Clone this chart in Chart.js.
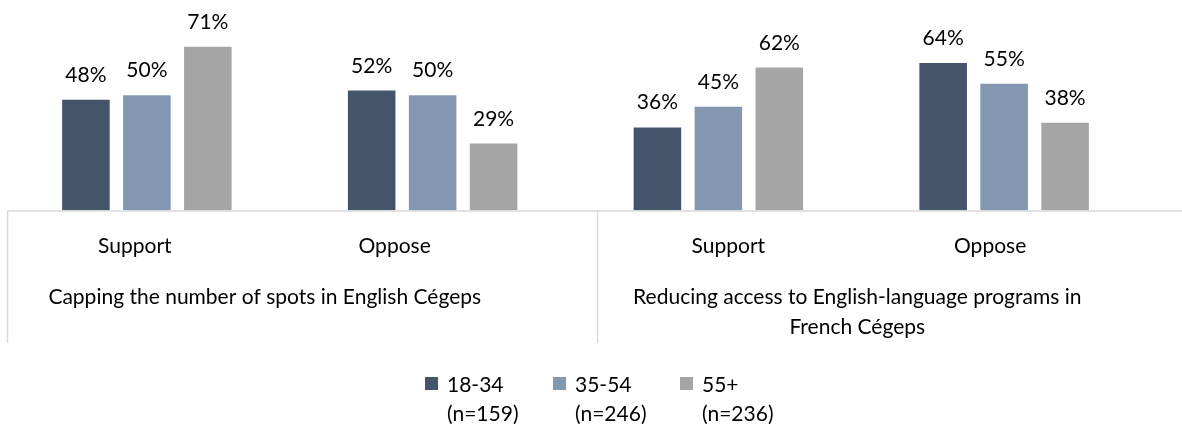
<!DOCTYPE html>
<html><head><meta charset="utf-8">
<script src="https://cdn.jsdelivr.net/npm/chart.js@4.4.1/dist/chart.umd.min.js"></script>
<style>html,body{margin:0;padding:0;background:#fff;}#wrap{width:1182px;height:429px;}</style>
</head><body><div id="wrap"><canvas id="c" width="1182" height="429"></canvas></div>
<script>
const categories = ['Support', 'Oppose', 'Support', 'Oppose'];
const groupLabels = [['Capping the number of spots in English Cégeps'], ['Reducing access to English-language programs in', 'French Cégeps']];
const seriesNames = ['18-34', '35-54', '55+'];
const sampleSizes = ['(n=159)', '(n=246)', '(n=236)'];
const age18to34 = [48, 52, 36, 64];
const age35to54 = [50, 50, 45, 55];
const age55plus = [71, 29, 62, 38];
const seriesColors = ['#44546A', '#8497B0', '#A5A5A5'];

const FONT = 'Lato, "Open Sans", sans-serif';
const FSIZE = 21;

const decor = {
  id: 'decor',
  afterDraw(chart) {
    const ctx = chart.ctx, area = chart.chartArea, xs = chart.scales.x;
    const W = chart.width;
    ctx.save();
    // axis & separators
    ctx.strokeStyle = '#D9D9D9';
    ctx.lineWidth = 1.5;
    const base = area.bottom + 0.5;
    ctx.beginPath();
    ctx.moveTo(7, base); ctx.lineTo(W, base);
    ctx.moveTo(7.5, base); ctx.lineTo(7.5, 343);
    ctx.moveTo(597.5, base); ctx.lineTo(597.5, 343);
    ctx.stroke();
    ctx.fillStyle = '#000';
    ctx.font = FSIZE + 'px ' + FONT;
    ctx.textAlign = 'center';
    ctx.textBaseline = 'middle';
    // data labels
    chart.data.datasets.forEach((ds, di) => {
      chart.getDatasetMeta(di).data.forEach((bar, i) => {
        ctx.textBaseline = 'alphabetic';
        ctx.fillText(ds.data[i] + '%', bar.x, bar.y - 18);
      });
    });
    // category labels
    const catNudge = [-12, -38, 10, -14];
    ctx.textBaseline = 'middle';
    categories.forEach((c, i) => {
      ctx.fillText(c, xs.getPixelForValue(i) + catNudge[i], 246);
    });
    // group labels
    const grpNudge = [-25, -4];
    groupLabels.forEach((lines, g) => {
      const cx = (xs.getPixelForValue(g * 2) + xs.getPixelForValue(g * 2 + 1)) / 2 + grpNudge[g];
      lines.forEach((ln, k) => ctx.fillText(ln, cx, 297 + k * 30));
    });
    // legend
    ctx.textAlign = 'left';
    const boxX = [425, 553, 680];
    seriesNames.forEach((n, i) => {
      ctx.fillStyle = seriesColors[i];
      ctx.fillRect(boxX[i], 377, 13, 13);
      ctx.fillStyle = '#000';
      ctx.fillText(n, boxX[i] + 22, 385);
      ctx.fillText(sampleSizes[i], boxX[i] + 22, 414);
    });
    ctx.restore();
  }
};

new Chart(document.getElementById('c'), {
  type: 'bar',
  data: {
    labels: categories,
    datasets: [
      { label: seriesNames[0], data: age18to34, backgroundColor: seriesColors[0] },
      { label: seriesNames[1], data: age35to54, backgroundColor: seriesColors[1] },
      { label: seriesNames[2], data: age55plus, backgroundColor: seriesColors[2] }
    ]
  },
  options: {
    responsive: false,
    animation: false,
    devicePixelRatio: 1,
    layout: { padding: { left: 4, right: 35, top: 26, bottom: 218.5 } },
    datasets: { bar: { categoryPercentage: 0.64, barPercentage: 0.78 } },
    scales: {
      x: { display: false },
      y: { display: false, min: 0, max: 80 }
    },
    plugins: { legend: { display: false }, tooltip: { enabled: false } }
  },
  plugins: [decor]
});
</script></body></html>
